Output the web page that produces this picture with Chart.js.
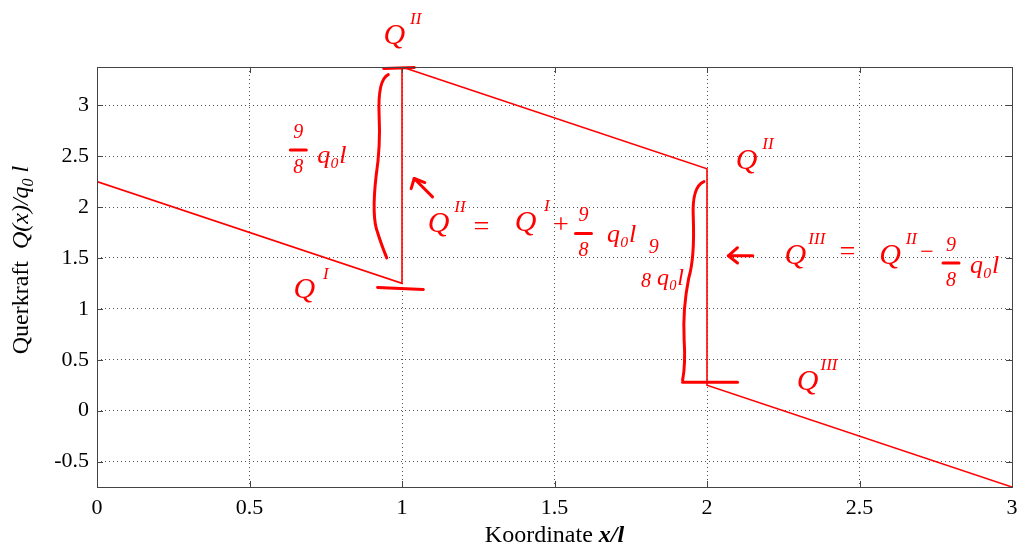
<!DOCTYPE html>
<html><head><meta charset="utf-8">
<script src="https://cdn.jsdelivr.net/npm/chart.js@4.4.0/dist/chart.umd.min.js"></script>
<style>html,body{margin:0;padding:0;background:#fff}#wrap{width:1018px;height:550px}</style>
</head><body><div id="wrap"><canvas id="c" width="1018" height="550"></canvas></div>
<script>
// ---- data ----
const xValues = [0, 1, 1, 2, 2, 3];
const qValues = [2.25, 1.25, 3.375, 2.375, 0.25, -0.75];
const xTicks = [0, 0.5, 1, 1.5, 2, 2.5, 3];
const yTicks = [-0.5, 0, 0.5, 1, 1.5, 2, 2.5, 3];
const xRange = [0, 3];
const yRange = [-0.75, 3.375];
const xTitle = ['Koordinate ', 'x/l'];
const yTitle = ['Querkraft  ', 'Q(x)/q', '0', ' l'];

const RED = '#ff0000';
const SERIF = '"Liberation Serif", "Times New Roman", serif';

const framePlugin = {
  id: 'frame',
  afterDraw(chart) {
    const {ctx, chartArea: a, scales: {x, y}} = chart;
    ctx.save();
    ctx.strokeStyle = '#444';
    ctx.lineWidth = 1;
    ctx.strokeRect(Math.round(a.left) + 0.5, Math.round(a.top) + 0.5, Math.round(a.right - a.left), Math.round(a.bottom - a.top));
    ctx.beginPath();
    xTicks.forEach(v => {
      const px = Math.round(x.getPixelForValue(v)) + 0.5;
      ctx.moveTo(px, a.bottom); ctx.lineTo(px, a.bottom - 6);
      ctx.moveTo(px, a.top); ctx.lineTo(px, a.top + 6);
    });
    yTicks.forEach(v => {
      const py = Math.round(y.getPixelForValue(v)) + 0.5;
      ctx.moveTo(a.left, py); ctx.lineTo(a.left + 6, py);
      ctx.moveTo(a.right, py); ctx.lineTo(a.right - 6, py);
    });
    ctx.stroke();

    // axis titles
    ctx.fillStyle = '#000';
    ctx.textBaseline = 'alphabetic';
    ctx.font = '24px ' + SERIF;
    const w1 = ctx.measureText(xTitle[0]).width;
    ctx.font = 'italic bold 24px ' + SERIF;
    const w2 = ctx.measureText(xTitle[1]).width;
    let sx = (a.left + a.right) / 2 - (w1 + w2) / 2;
    ctx.font = '24px ' + SERIF; ctx.fillText(xTitle[0], sx, 542);
    ctx.font = 'italic bold 24px ' + SERIF; ctx.fillText(xTitle[1], sx + w1, 542);

    ctx.translate(28, 260);
    ctx.rotate(-Math.PI / 2);
    const parts = [
      {t: yTitle[0], f: '24px ', dy: 0},
      {t: yTitle[1], f: 'italic 24px ', dy: 0},
      {t: yTitle[2], f: 'italic 16px ', dy: 5},
      {t: yTitle[3], f: 'italic 24px ', dy: 0}
    ];
    let tw = 0;
    parts.forEach(p => { ctx.font = p.f + SERIF; p.w = ctx.measureText(p.t).width; tw += p.w; });
    let cx = -tw / 2;
    parts.forEach(p => { ctx.font = p.f + SERIF; ctx.fillText(p.t, cx, p.dy); cx += p.w; });
    ctx.restore();
  }
};

// handwritten-style annotations, placed through the chart's scales
const notesPlugin = {
  id: 'notes',
  afterDatasetsDraw(chart) {
    const {ctx, scales: {x, y}} = chart;
    const X = v => x.getPixelForValue(v), Y = v => y.getPixelForValue(v);
    ctx.save();
    ctx.fillStyle = RED; ctx.strokeStyle = RED;
    ctx.lineWidth = 3; ctx.lineCap = 'round'; ctx.lineJoin = 'round';
    ctx.textAlign = 'center'; ctx.textBaseline = 'middle';
    const txt = (s, dx, dy, size) => { ctx.font = 'italic ' + size + 'px ' + SERIF; ctx.fillText(s, X(dx), Y(dy)); };
    const Q = (dx, dy, sup) => { txt('Q', dx, dy, 30); txt(sup, dx + 0.07, dy + 0.16, 17); };
    const frac = (dx, dy) => {
      txt('9', dx, dy + 0.17, 20);
      ctx.beginPath(); ctx.moveTo(X(dx) - 8, Y(dy)); ctx.lineTo(X(dx) + 8, Y(dy)); ctx.stroke();
      txt('8', dx, dy - 0.17, 20);
    };
    const line = (pts) => { ctx.beginPath(); pts.forEach((p, i) => i ? ctx.lineTo(X(p[0]), Y(p[1])) : ctx.moveTo(X(p[0]), Y(p[1]))); ctx.stroke(); };

    // top label at x=1
    Q(0.975, 3.68, 'II');
    line([[0.94, 3.36], [1.04, 3.37]]);
    line([[0.92, 1.21], [1.07, 1.19]]);
    // left brace
    ctx.beginPath();
    ctx.moveTo(X(0.955), Y(3.3));
    ctx.quadraticCurveTo(X(0.92), Y(3.25), X(0.925), Y(2.9));
    ctx.quadraticCurveTo(X(0.93), Y(2.6), X(0.915), Y(2.3));
    ctx.quadraticCurveTo(X(0.9), Y(1.9), X(0.92), Y(1.75));
    ctx.quadraticCurveTo(X(0.93), Y(1.65), X(0.95), Y(1.5));
    ctx.stroke();
    frac(0.66, 2.56);
    txt('q\u2080l', 0.77, 2.5, 26);
    Q(0.68, 1.18, 'I');
    // arrow 1
    line([[1.1, 2.1], [1.04, 2.28]]);
    line([[1.03, 2.18], [1.04, 2.28], [1.075, 2.24]]);
    // equation 1
    Q(1.12, 1.83, 'II');
    txt('=', 1.26, 1.8, 28);
    Q(1.405, 1.84, 'I');
    txt('+', 1.52, 1.82, 28);
    frac(1.595, 1.74);
    txt('q\u2080l', 1.72, 1.72, 26);

    // right side at x=2
    Q(2.13, 2.45, 'II');
    ctx.beginPath();
    ctx.moveTo(X(1.99), Y(2.25));
    ctx.quadraticCurveTo(X(1.95), Y(2.2), X(1.955), Y(1.9));
    ctx.quadraticCurveTo(X(1.96), Y(1.5), X(1.94), Y(1.3));
    ctx.quadraticCurveTo(X(1.92), Y(1.0), X(1.925), Y(0.7));
    ctx.quadraticCurveTo(X(1.93), Y(0.45), X(1.92), Y(0.3));
    ctx.stroke();
    line([[1.92, 0.28], [2.1, 0.28]]);
    txt('9', 1.825, 1.6, 20);
    txt('8', 1.8, 1.27, 20);
    txt('q\u2080l', 1.88, 1.3, 24);
    // arrow 2
    line([[2.15, 1.52], [2.07, 1.52]]);
    line([[2.1, 1.6], [2.07, 1.52], [2.1, 1.45]]);
    // equation 2
    Q(2.29, 1.52, 'III');
    txt('=', 2.46, 1.55, 28);
    Q(2.6, 1.52, 'II');
    txt('\u2212', 2.72, 1.55, 24);
    frac(2.8, 1.45);
    txt('q\u2080l', 2.91, 1.42, 26);
    // bottom right label
    Q(2.33, 0.28, 'III');
    ctx.restore();
  }
};

new Chart(document.getElementById('c'), {
  type: 'scatter',
  data: {
    datasets: [{
      data: xValues.map((v, i) => ({x: v, y: qValues[i]})),
      showLine: true,
      borderColor: RED,
      backgroundColor: RED,
      borderWidth: 1.6,
      pointRadius: 0,
      tension: 0
    }]
  },
  options: {
    responsive: false,
    animation: false,
    events: [],
    layout: {padding: {left: 0, right: 6, top: 67, bottom: 0}},
    plugins: {legend: {display: false}, tooltip: {enabled: false}},
    scales: {
      x: {
        type: 'linear', min: xRange[0], max: xRange[1],
        afterBuildTicks: s => { s.ticks = xTicks.map(v => ({value: v})); },
        afterFit: s => { s.height = 63; s.paddingLeft = 0; s.paddingRight = 0; },
        grid: {color: '#555', lineWidth: 1, drawTicks: false},
        border: {display: false, dash: [1, 3]},
        ticks: {padding: 8, color: '#000', font: {family: SERIF, size: 22}, maxRotation: 0, callback: v => String(v)}
      },
      y: {
        type: 'linear', min: yRange[0], max: yRange[1],
        afterBuildTicks: s => { s.ticks = yTicks.map(v => ({value: v})); },
        afterFit: s => { s.width = 97; s.paddingTop = 0; s.paddingBottom = 0; },
        grid: {color: '#555', lineWidth: 1, drawTicks: false},
        border: {display: false, dash: [1, 3]},
        ticks: {padding: 8, color: '#000', font: {family: SERIF, size: 22}, callback: v => String(v)}
      }
    }
  },
  plugins: [framePlugin, notesPlugin]
});
</script></body></html>
